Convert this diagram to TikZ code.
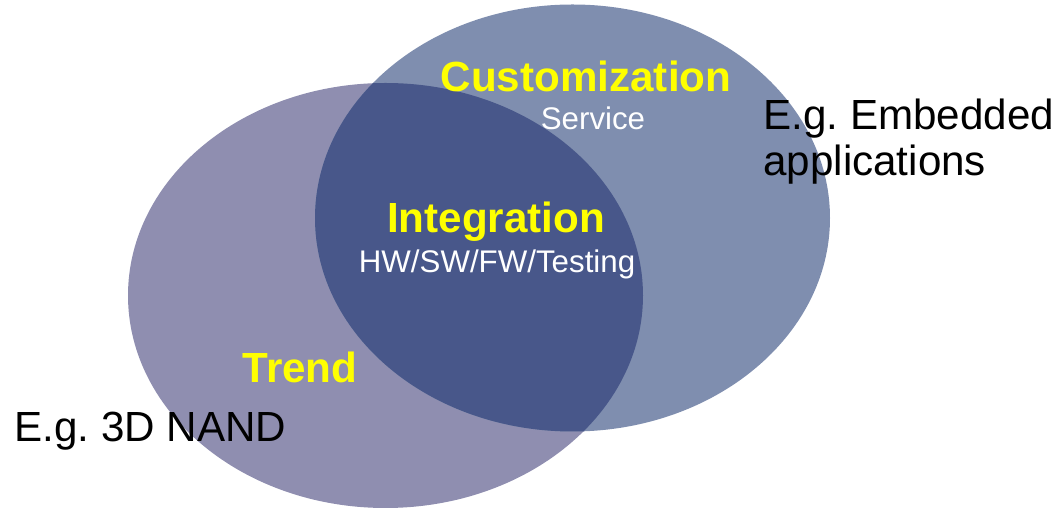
\documentclass[tikz,border=0pt]{standalone}
\usepackage{fontspec}
\setmainfont{Liberation Sans}
\usetikzlibrary{positioning}
\frenchspacing

\definecolor{trendfill}{HTML}{8F8EB0}
\definecolor{custfill}{HTML}{7F8EAF}
\definecolor{bothfill}{HTML}{48578A}
\definecolor{headyellow}{HTML}{FFFF00}

\tikzset{
  head/.style={font=\fontsize{24}{26}\selectfont\bfseries, text=headyellow, inner sep=0pt, anchor=base},
  sub/.style={font=\fontsize{17.8}{20}\selectfont, text=white, inner sep=0pt, anchor=base},
  note/.style={font=\fontsize{24}{26.3}\selectfont, text=black, inner sep=0pt, anchor=base west}
}

\begin{document}
\begin{tikzpicture}[x=0.02cm, y=-0.02cm]
    \useasboundingbox (0,0) rectangle (1059,509);

    % Ellipses
    \fill[trendfill] (385.5,295.5) ellipse [x radius=257.5, y radius=212.5];
    \fill[custfill] (572.5,218) ellipse [x radius=257.5, y radius=213.5];
    \begin{scope}
        \clip (385.5,295.5) ellipse [x radius=257.5, y radius=212.5];
        \fill[bothfill] (572.5,218) ellipse [x radius=257.5, y radius=213.5];
    \end{scope}

    % Labels
    \node (cust) [head] at (586,92) {Customization};
    \node (service) [sub] at (593,130) {Service};
    \node (integ) [head] at (496,233) {Integration};
    \node (hwsw) [sub] at (497,273) {HW/SW/FW/Testing};
    \node (trend) [head] at (300,383) {Trend};

    % Examples
    \node (nand) [note] at (14,442) {E.g. 3D NAND};
    \node (emb) [note] at (763,130) {E.g. Embedded};
    \node (apps) [note] at (763,176) {applications};
\end{tikzpicture}
\end{document}
